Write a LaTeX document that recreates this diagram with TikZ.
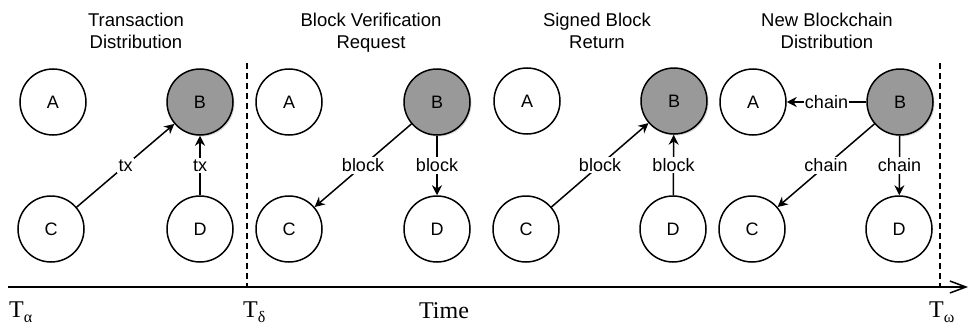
\documentclass[tikz,border=0pt]{standalone}
\usepackage{fontspec}
\setmainfont{Liberation Serif}
\setsansfont{Liberation Sans}
\usetikzlibrary{arrows.meta,shadows}
\definecolor{leadgray}{RGB}{153,153,153}
\begin{document}
\begin{tikzpicture}[x=1pt,y=-1pt,
  peer/.style={circle,draw,line width=1.5pt,minimum size=66pt,inner sep=0pt,
    font=\sffamily\fontsize{18}{18}\selectfont},
  leader/.style={peer,fill=leadgray,drop shadow={shadow xshift=1.5pt,shadow yshift=-1.5pt,opacity=0.3}},
  msg/.style={-{Stealth[length=10pt,width=10pt]},line width=1.5pt},
  lbl/.style={fill=white,inner sep=1.5pt,font=\sffamily\fontsize{18}{18}\selectfont},
  title/.style={anchor=base,font=\sffamily\fontsize{18.5}{21.5}\selectfont},
  tlabel/.style={anchor=base west,font=\fontsize{24}{24}\selectfont,inner sep=0pt},
  sub/.style={},
  divider/.style={line width=1.3pt,dash pattern=on 6pt off 4pt},
]
\useasboundingbox (0,0) rectangle (969,324);

% titles
\node[title] (t1a) at (136,27) {Transaction};
\node[title] (t1b) at (136,48) {Distribution};
\node[title] (t2a) at (371,27) {Block Verification};
\node[title] (t2b) at (371,48) {Request};
\node[title] (t3a) at (597,27) {Signed Block};
\node[title] (t3b) at (597,48) {Return};
\node[title] (t4a) at (827,27) {New Blockchain};
\node[title] (t4b) at (827,48) {Distribution};

% panel 1
\node[peer]   (A1) at (53,102) {A};
\node[leader] (B1) at (200,102) {B};
\node[peer]   (C1) at (51,229) {C};
\node[peer]   (D1) at (200,229) {D};
\draw[msg] (C1) -- node[lbl] {tx} (B1);
\draw[msg] (D1) -- node[lbl] {tx} (B1);

% panel 2
\node[peer]   (A2) at (289,102) {A};
\node[leader] (B2) at (437,102) {B};
\node[peer]   (C2) at (289,229) {C};
\node[peer]   (D2) at (437,229) {D};
\draw[msg] (B2) -- node[lbl] {block} (C2);
\draw[msg] (B2) -- node[lbl] {block} (D2);

% panel 3
\node[peer]   (A3) at (527,101) {A};
\node[leader] (B3) at (674,101) {B};
\node[peer]   (C3) at (526,229) {C};
\node[peer]   (D3) at (673,229) {D};
\draw[msg] (C3) -- node[lbl] {block} (B3);
\draw[msg] (D3) -- node[lbl] {block} (B3);

% panel 4
\node[peer]   (A4) at (753,102) {A};
\node[leader] (B4) at (900,102) {B};
\node[peer]   (C4) at (752,229) {C};
\node[peer]   (D4) at (899,229) {D};
\draw[msg] (B4) -- node[lbl,inner sep=1pt] {chain} (A4);
\draw[msg] (B4) -- node[lbl] {chain} (C4);
\draw[msg] (B4) -- node[lbl] {chain} (D4);

% time axis
\coordinate (ax0) at (8,287);
\coordinate (ax1) at (968,287);
\draw[line width=1.5pt,-{Straight Barb[length=16pt,width=12pt,line width=1.5pt]}] (ax0) -- (ax1);

% dividers
\coordinate (d1top) at (247,63);
\coordinate (d1bot) at (247,287);
\coordinate (d2top) at (940,63);
\coordinate (d2bot) at (940,287);
\draw[divider] (d1top) -- (d1bot);
\draw[divider] (d2top) -- (d2bot);

% time labels
\node[tlabel] (ta) at (9,317) {T\raisebox{-5pt}{\fontsize{16}{16}\selectfont α}};
\node[tlabel] (td) at (243,317) {T\raisebox{-5pt}{\fontsize{16}{16}\selectfont δ}};
\node[tlabel] (tw) at (929,317) {T\raisebox{-5pt}{\fontsize{16}{16}\selectfont ω}};
\node[anchor=base,font=\fontsize{24}{24}\selectfont,inner sep=0pt] (time) at (444,318) {Time};
\end{tikzpicture}
\end{document}
